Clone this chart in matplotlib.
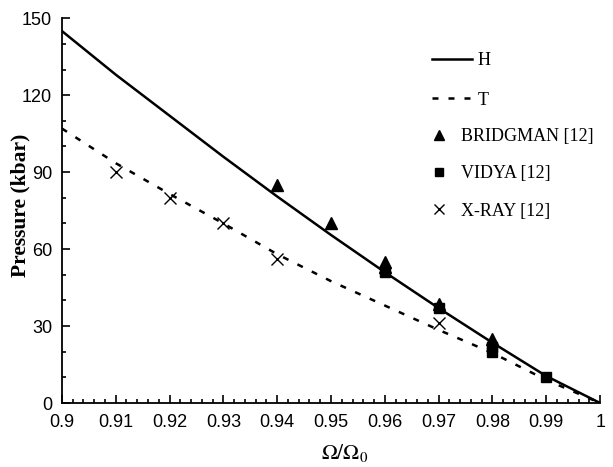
import matplotlib
matplotlib.use('Agg')
import matplotlib.pyplot as plt
import numpy as np
from matplotlib.ticker import MultipleLocator, FuncFormatter
from matplotlib.legend_handler import HandlerLine2D

# ---- data ----
vol = [0.90, 0.91, 0.92, 0.93, 0.94, 0.95, 0.96, 0.97, 0.98, 0.99, 1.00]
p_H = [145, 128, 112, 96, 80.5, 65.5, 51, 37, 23.5, 10.5, 0]
p_T = [107, 93.5, 81.5, 70, 58, 47.5, 38, 28.5, 19.5, 9, 0]

bridg_x = [0.94, 0.95, 0.96, 0.96, 0.97, 0.98]
bridg_y = [85, 70, 55, 53, 38.5, 25]
vidya_x = [0.96, 0.97, 0.98, 0.98, 0.99]
vidya_y = [51, 37, 22, 20, 10]
xray_x = [0.91, 0.92, 0.93, 0.94, 0.97]
xray_y = [90, 80, 70, 56, 31]

plt.rcParams['mathtext.fontset'] = 'stix'

fig = plt.figure(figsize=(6.13, 4.67), dpi=100)
ax = fig.add_axes([0.101, 0.137, 0.878, 0.824])

lH, = ax.plot(vol, p_H, '-', color='k', lw=1.8, label='H')
lT, = ax.plot(vol, p_T, color='k', lw=1.8, dashes=(2.4, 4), label='T')
mB, = ax.plot(bridg_x, bridg_y, '^', color='k', ms=9, ls='none', label='BRIDGMAN [12]')
mV, = ax.plot(vidya_x, vidya_y, 's', color='k', ms=7.5, ls='none', label='VIDYA [12]')
mX, = ax.plot(xray_x, xray_y, 'x', color='k', ms=9, mew=1.0, ls='none', label='X-RAY [12]')

ax.set_xlim(0.9, 1.0)
ax.set_ylim(0, 150)
for s in ['top', 'right']:
    ax.spines[s].set_visible(False)
for s in ['left', 'bottom']:
    ax.spines[s].set_linewidth(1.3)

ax.xaxis.set_major_locator(MultipleLocator(0.01))
ax.xaxis.set_minor_locator(MultipleLocator(0.002))
ax.xaxis.set_major_formatter(FuncFormatter(lambda v, p: '%g' % round(v, 2)))
ax.yaxis.set_major_locator(MultipleLocator(30))
ax.yaxis.set_minor_locator(MultipleLocator(10))
ax.tick_params(which='both', direction='in', width=1.2, colors='k')
ax.tick_params(which='major', length=6, labelsize=13, pad=7)
ax.tick_params(axis='x', which='major', pad=8)
ax.tick_params(which='minor', length=3)
for lab in ax.get_xticklabels() + ax.get_yticklabels():
    lab.set_fontfamily('Liberation Sans')

ax.set_ylabel('Pressure (kbar)', family='Liberation Serif', fontweight='bold',
              fontsize=15.5)
ax.yaxis.set_label_coords(-0.058, 0.514)
ax.set_xlabel(r'$\Omega/\Omega_0$', fontsize=15.5)
ax.xaxis.set_label_coords(0.526, -0.1)


class LeftMarker(HandlerLine2D):
    def get_xdata(self, legend, xdescent, ydescent, width, height, fontsize):
        xd, _ = super().get_xdata(legend, xdescent, ydescent, width, height, fontsize)
        return xd, np.array([-xdescent + 0.35 * width])


lprop = {'family': 'Liberation Serif', 'size': 13}
leg1 = ax.legend(handles=[lH, lT], loc='upper left', bbox_to_anchor=(0.688, 0.912),
                 frameon=False, prop=lprop, handlelength=2.2, handletextpad=0.33,
                 labelspacing=1.25, borderpad=0, borderaxespad=0)
ax.add_artist(leg1)
ax.legend(handles=[mB, mV, mX], loc='upper left', bbox_to_anchor=(0.681, 0.714),
          frameon=False, prop=lprop, handlelength=1.2, handletextpad=0.6,
          labelspacing=1.12, borderpad=0, borderaxespad=0, markerscale=0.75,
          handler_map={mB: LeftMarker(), mV: LeftMarker(), mX: LeftMarker()})

fig.savefig('out.png', dpi=100)
